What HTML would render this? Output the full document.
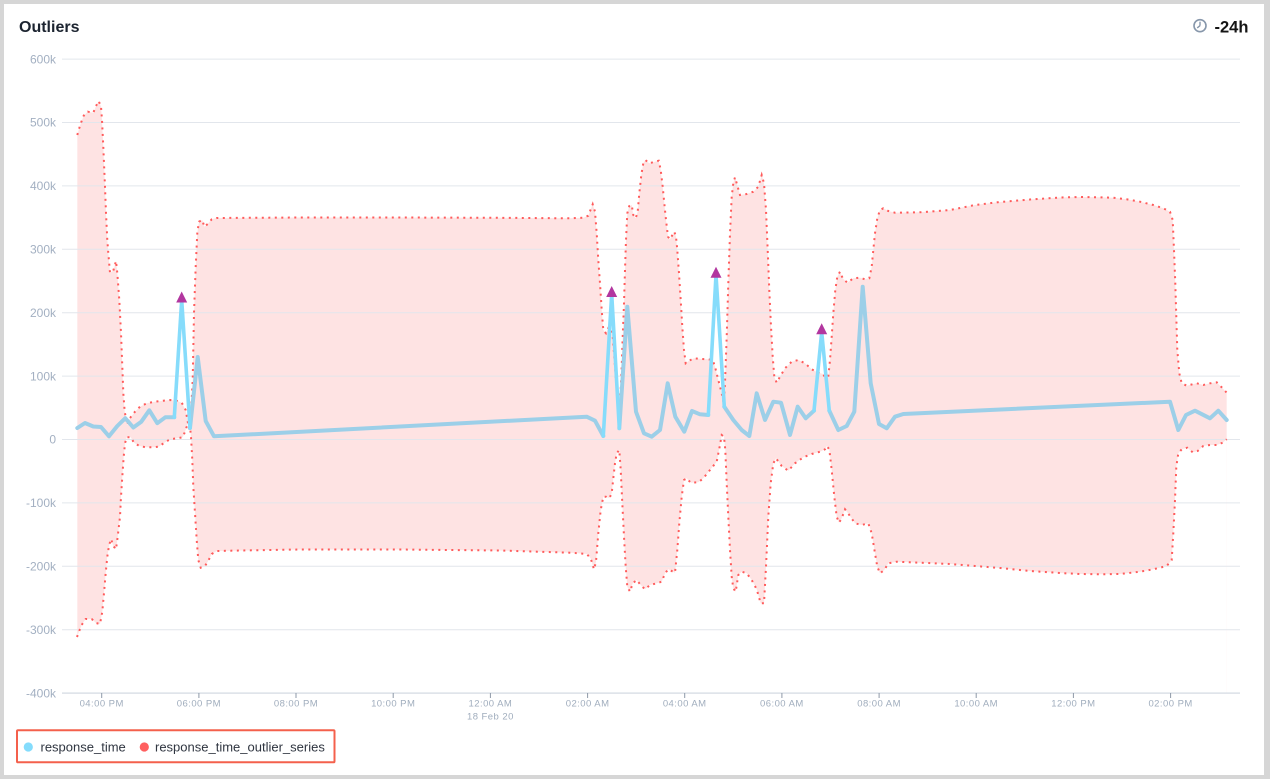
<!DOCTYPE html>
<html><head><meta charset="utf-8"><style>
html,body{margin:0;padding:0;background:#d6d6d6;}
body{width:1270px;height:779px;overflow:hidden;position:relative;font-family:"Liberation Sans",sans-serif;}
svg{position:absolute;left:0;top:0;}
</style></head><body>
<svg width="1270" height="779" viewBox="0 0 1270 779" xmlns="http://www.w3.org/2000/svg">
<rect x="0" y="0" width="1270" height="779" fill="#d6d6d6"/>
<rect x="4" y="4" width="1260" height="771" fill="#ffffff"/>

<text x="19" y="32" font-family="Liberation Sans, sans-serif" font-size="16" font-weight="bold" fill="#1c2430">Outliers</text>
<g transform="translate(1200,25.7)">
<circle r="6" fill="none" stroke="#8797ab" stroke-width="1.6"/>
<line x1="0" y1="0" x2="0" y2="-4" stroke="#8797ab" stroke-width="1.4"/>
<line x1="0" y1="0" x2="-2.8" y2="2.2" stroke="#8797ab" stroke-width="1.4"/>
</g>
<text x="1214.5" y="32.5" font-family="Liberation Sans, sans-serif" font-size="16.5" font-weight="bold" fill="#151515">-24h</text>

<!-- pink band -->
<path fill="#fee3e3" d="M77.3,693 L77.3,135 L79,129 L81.3,122 L83.7,115.7 L87.7,111.7 L93.3,112.7 L96,106 L98.7,101 L101,106.7 L102,120 L103.3,146.7 L105,186.7 L106,213 L107.3,240 L108.3,253 L110,272.7 L113.3,270.7 L116,261 L117.3,273 L119.3,300 L121,333 L122.7,376.7 L123.3,393 L124.7,411.7 L127.3,425 L130,418 L135,411.7 L140,406.7 L146.7,403.3 L155,401.7 L163.3,400.7 L170,400 L176.7,400.7 L181.7,402.7 L185.7,410 L188.3,425 L190,431.7 L192.7,380 L194,313 L195.7,266.7 L197.3,233 L199,221.7 L202.3,220 L204.3,226.7 L207.7,224 L211.7,219.3 L216.7,218 L300,217.5 L400,217.5 L500,217.8 L570,218.3 L583.3,217.7 L588.3,215.7 L592.7,204.3 L595,211.7 L596.7,233.3 L598.3,260 L600,283.3 L601.7,310 L603.3,330 L606,333.3 L608.7,327.3 L610.7,328.3 L612.7,336.7 L614.3,356.7 L616,380 L617.7,396.7 L619.3,401.7 L620.7,390 L621.7,366.7 L622.7,336.7 L624,303.3 L625,270 L626,240 L627.3,213.3 L629.3,206 L631.7,205 L633.3,215 L635.7,218.3 L637.7,211.7 L639.3,193.3 L641.3,175 L643.3,163.3 L645.3,160 L649.3,163.3 L655,161.7 L658.7,160.7 L660.7,170 L662.7,186.7 L664.3,203.3 L666,220 L668,236.7 L670,239.3 L674.3,231.7 L676,236.7 L677.3,250 L679,273.3 L680.7,300 L682.3,326.7 L684,350 L685.7,363.3 L689,360.7 L694,358.3 L701.7,359 L708.3,359.3 L712.7,360 L715,366.7 L718.3,380 L721.7,393.3 L723.7,403.3 L725,383.3 L726.7,336.7 L728.3,283.3 L730,233.3 L731.7,196.7 L733.3,183.3 L735,177.3 L736.7,183.3 L740,195 L746.7,194 L753.3,191.7 L758.3,186.7 L761.7,175 L764,183.3 L766,210 L767.7,250 L769.3,290 L771,326.7 L772.7,356.7 L774.3,376.7 L776.7,382.7 L780,376.7 L785,368.3 L791.7,361.7 L798.3,360 L805,363.3 L811.7,369.3 L818.3,372.7 L823.3,374 L826.7,381.7 L828.3,376.7 L830,360 L831.7,336.7 L833.3,313.3 L835.3,290 L837.3,276.7 L840,271.7 L842.7,278.3 L847.3,282.7 L853.3,278.3 L860,277.7 L865,279.3 L869.3,278.3 L871.7,266.7 L873.3,250 L875,233.3 L877.3,218.3 L880,210 L883.3,208.3 L888.3,211 L895,212.7 L920,212.3 L950,210 L975,205 L1000,202 L1030,199.5 L1060,197.5 L1080,197 L1100,197.3 L1113.3,197.7 L1126.7,199.3 L1140,201.7 L1153.3,205 L1163.3,208.3 L1170,211.7 L1172.7,220 L1174,250 L1175.3,283.3 L1176.3,316.7 L1177.3,350 L1179.3,373.3 L1181.7,383.3 L1186.7,385.7 L1196.7,383.3 L1203.3,385 L1210,383.3 L1216.7,382.3 L1221.7,387.3 L1226.7,392.7 L1226.7,693 Z"/>
<path fill="#ffffff" d="M77,693 L77,637 L79.3,630.7 L82.3,624 L85.7,619 L91.7,619 L96,623 L100,624 L102.3,611.7 L104,593 L105.7,573 L107.3,556.7 L109,545.7 L111,539 L113.3,546 L116,549.3 L117.7,536.7 L120,516.7 L121,496.7 L122.3,476.7 L123.7,456.7 L125,443.3 L126.7,437.3 L130.7,437.3 L134,442.7 L139.3,446 L146,447.3 L153.3,447.3 L158.7,446.7 L165,442.3 L170,439.3 L176.7,438.3 L182.7,437.3 L185,431.7 L187.3,425 L189.3,420 L191,436.7 L192.3,460 L193.3,486.7 L195,513 L196.7,540 L198.3,560 L200.7,567.7 L205,566 L208.3,560.7 L211.7,554 L216.7,551 L240,550.5 L300,549.5 L400,549.5 L500,550.5 L570,552.7 L578.3,553.3 L586.7,554 L590.7,558.3 L594,569.3 L596,561.7 L598.3,533.3 L600.7,510 L603.3,496.7 L606,496.7 L609.3,498.3 L611.7,493.3 L613.3,478.3 L615,463.3 L616.7,453.3 L619.3,450 L620.7,470 L622.3,503.3 L624,536.7 L625.7,566.7 L627.3,586.7 L630,591.7 L632.7,583.3 L636.7,580 L640.7,585 L645,589.3 L650,585 L656.7,583.3 L661.7,581.7 L665,573.3 L668.3,569.3 L675,572.7 L677.3,550 L679.3,523.3 L681.7,496.7 L684,480 L686.7,478.3 L690.7,482.7 L698.3,482.3 L703.3,478.3 L710,470 L716.7,461.7 L720,445 L721.7,435 L724,436.7 L725.3,450 L726.7,483.3 L728.3,516.7 L730,550 L731.7,576.7 L733.3,588.3 L735.7,591.7 L738.3,575 L741.7,571.7 L746.7,573.3 L751.7,580 L756.7,589.3 L760.7,603.3 L764,603.3 L766,566.7 L768.3,516.7 L770.7,483.3 L773.3,463.3 L776,458.3 L781.7,466 L788.3,470.7 L795,463.3 L803.3,457.3 L811.7,454 L820,451.7 L825,449.3 L826.7,446 L829.3,449.3 L831.7,470 L834.3,496.7 L836.7,516.7 L839,522.7 L841.7,518.3 L845,509.3 L850,516 L855,523.3 L861.7,525 L868.3,523.3 L871.7,533.3 L875,553.3 L877.3,566.7 L880,573.3 L884.3,570 L888.3,563.3 L896.7,561.7 L910,562.3 L920,562.7 L950,564 L975,566 L1000,568 L1030,571 L1060,573 L1080,574 L1100,574.3 L1120,574 L1140,571.7 L1153.3,569.3 L1166.7,566 L1171.7,560 L1173.3,533.3 L1175,500 L1176.3,466.7 L1178.3,453.3 L1181.7,449.3 L1187.3,447.7 L1192.7,452.3 L1197.7,451 L1203.3,446 L1210,445 L1216.7,445 L1222.7,442.7 L1226.7,439.3 L1226.7,693 Z"/>

<!-- grid -->
<g stroke="#e2e6ec" stroke-width="1">
<line x1="62" y1="59.1" x2="1240" y2="59.1"/>
<line x1="62" y1="122.5" x2="1240" y2="122.5"/>
<line x1="62" y1="185.9" x2="1240" y2="185.9"/>
<line x1="62" y1="249.3" x2="1240" y2="249.3"/>
<line x1="62" y1="312.7" x2="1240" y2="312.7"/>
<line x1="62" y1="376.1" x2="1240" y2="376.1"/>
<line x1="62" y1="439.5" x2="1240" y2="439.5"/>
<line x1="62" y1="502.9" x2="1240" y2="502.9"/>
<line x1="62" y1="566.3" x2="1240" y2="566.3"/>
<line x1="62" y1="629.7" x2="1240" y2="629.7"/>
</g>
<line x1="62" y1="693.1" x2="1240" y2="693.1" stroke="#dbe0e7" stroke-width="1.5"/>
<g stroke="#8e99a8" stroke-width="1">
<line x1="101.7" y1="693" x2="101.7" y2="698"/>
<line x1="198.9" y1="693" x2="198.9" y2="698"/>
<line x1="296" y1="693" x2="296" y2="698"/>
<line x1="393.2" y1="693" x2="393.2" y2="698"/>
<line x1="490.4" y1="693" x2="490.4" y2="698"/>
<line x1="587.6" y1="693" x2="587.6" y2="698"/>
<line x1="684.7" y1="693" x2="684.7" y2="698"/>
<line x1="781.9" y1="693" x2="781.9" y2="698"/>
<line x1="879.1" y1="693" x2="879.1" y2="698"/>
<line x1="976.2" y1="693" x2="976.2" y2="698"/>
<line x1="1073.4" y1="693" x2="1073.4" y2="698"/>
<line x1="1170.6" y1="693" x2="1170.6" y2="698"/>
</g>

<!-- y labels -->
<g font-family="Liberation Sans, sans-serif" font-size="12" fill="#a3b0c2" text-anchor="end">
<text x="56" y="63.3">600k</text>
<text x="56" y="126.7">500k</text>
<text x="56" y="190.1">400k</text>
<text x="56" y="253.5">300k</text>
<text x="56" y="316.9">200k</text>
<text x="56" y="380.3">100k</text>
<text x="56" y="443.7">0</text>
<text x="56" y="507.1">-100k</text>
<text x="56" y="570.5">-200k</text>
<text x="56" y="633.9">-300k</text>
<text x="56" y="697.3">-400k</text>
</g>
<!-- x labels -->
<g font-family="Liberation Sans, sans-serif" font-size="9.5" letter-spacing="0.45" fill="#a0adbd" text-anchor="middle">
<text x="101.7" y="706.5">04:00 PM</text>
<text x="198.9" y="706.5">06:00 PM</text>
<text x="296" y="706.5">08:00 PM</text>
<text x="393.2" y="706.5">10:00 PM</text>
<text x="490.4" y="706.5">12:00 AM</text>
<text x="490.4" y="719.5">18 Feb 20</text>
<text x="587.6" y="706.5">02:00 AM</text>
<text x="684.7" y="706.5">04:00 AM</text>
<text x="781.9" y="706.5">06:00 AM</text>
<text x="879.1" y="706.5">08:00 AM</text>
<text x="976.2" y="706.5">10:00 AM</text>
<text x="1073.4" y="706.5">12:00 PM</text>
<text x="1170.6" y="706.5">02:00 PM</text>
</g>

<!-- dotted bounds -->
<g fill="none" stroke="#ff5b5b" stroke-width="2" stroke-dasharray="2 4.5">
<polyline points="77.3,135 79,129 81.3,122 83.7,115.7 87.7,111.7 93.3,112.7 96,106 98.7,101 101,106.7 102,120 103.3,146.7 105,186.7 106,213 107.3,240 108.3,253 110,272.7 113.3,270.7 116,261 117.3,273 119.3,300 121,333 122.7,376.7 123.3,393 124.7,411.7 127.3,425 130,418 135,411.7 140,406.7 146.7,403.3 155,401.7 163.3,400.7 170,400 176.7,400.7 181.7,402.7 185.7,410 188.3,425 190,431.7 192.7,380 194,313 195.7,266.7 197.3,233 199,221.7 202.3,220 204.3,226.7 207.7,224 211.7,219.3 216.7,218 300,217.5 400,217.5 500,217.8 570,218.3 583.3,217.7 588.3,215.7 592.7,204.3 595,211.7 596.7,233.3 598.3,260 600,283.3 601.7,310 603.3,330 606,333.3 608.7,327.3 610.7,328.3 612.7,336.7 614.3,356.7 616,380 617.7,396.7 619.3,401.7 620.7,390 621.7,366.7 622.7,336.7 624,303.3 625,270 626,240 627.3,213.3 629.3,206 631.7,205 633.3,215 635.7,218.3 637.7,211.7 639.3,193.3 641.3,175 643.3,163.3 645.3,160 649.3,163.3 655,161.7 658.7,160.7 660.7,170 662.7,186.7 664.3,203.3 666,220 668,236.7 670,239.3 674.3,231.7 676,236.7 677.3,250 679,273.3 680.7,300 682.3,326.7 684,350 685.7,363.3 689,360.7 694,358.3 701.7,359 708.3,359.3 712.7,360 715,366.7 718.3,380 721.7,393.3 723.7,403.3 725,383.3 726.7,336.7 728.3,283.3 730,233.3 731.7,196.7 733.3,183.3 735,177.3 736.7,183.3 740,195 746.7,194 753.3,191.7 758.3,186.7 761.7,175 764,183.3 766,210 767.7,250 769.3,290 771,326.7 772.7,356.7 774.3,376.7 776.7,382.7 780,376.7 785,368.3 791.7,361.7 798.3,360 805,363.3 811.7,369.3 818.3,372.7 823.3,374 826.7,381.7 828.3,376.7 830,360 831.7,336.7 833.3,313.3 835.3,290 837.3,276.7 840,271.7 842.7,278.3 847.3,282.7 853.3,278.3 860,277.7 865,279.3 869.3,278.3 871.7,266.7 873.3,250 875,233.3 877.3,218.3 880,210 883.3,208.3 888.3,211 895,212.7 920,212.3 950,210 975,205 1000,202 1030,199.5 1060,197.5 1080,197 1100,197.3 1113.3,197.7 1126.7,199.3 1140,201.7 1153.3,205 1163.3,208.3 1170,211.7 1172.7,220 1174,250 1175.3,283.3 1176.3,316.7 1177.3,350 1179.3,373.3 1181.7,383.3 1186.7,385.7 1196.7,383.3 1203.3,385 1210,383.3 1216.7,382.3 1221.7,387.3 1226.7,392.7"/>
<polyline points="77,637 79.3,630.7 82.3,624 85.7,619 91.7,619 96,623 100,624 102.3,611.7 104,593 105.7,573 107.3,556.7 109,545.7 111,539 113.3,546 116,549.3 117.7,536.7 120,516.7 121,496.7 122.3,476.7 123.7,456.7 125,443.3 126.7,437.3 130.7,437.3 134,442.7 139.3,446 146,447.3 153.3,447.3 158.7,446.7 165,442.3 170,439.3 176.7,438.3 182.7,437.3 185,431.7 187.3,425 189.3,420 191,436.7 192.3,460 193.3,486.7 195,513 196.7,540 198.3,560 200.7,567.7 205,566 208.3,560.7 211.7,554 216.7,551 240,550.5 300,549.5 400,549.5 500,550.5 570,552.7 578.3,553.3 586.7,554 590.7,558.3 594,569.3 596,561.7 598.3,533.3 600.7,510 603.3,496.7 606,496.7 609.3,498.3 611.7,493.3 613.3,478.3 615,463.3 616.7,453.3 619.3,450 620.7,470 622.3,503.3 624,536.7 625.7,566.7 627.3,586.7 630,591.7 632.7,583.3 636.7,580 640.7,585 645,589.3 650,585 656.7,583.3 661.7,581.7 665,573.3 668.3,569.3 675,572.7 677.3,550 679.3,523.3 681.7,496.7 684,480 686.7,478.3 690.7,482.7 698.3,482.3 703.3,478.3 710,470 716.7,461.7 720,445 721.7,435 724,436.7 725.3,450 726.7,483.3 728.3,516.7 730,550 731.7,576.7 733.3,588.3 735.7,591.7 738.3,575 741.7,571.7 746.7,573.3 751.7,580 756.7,589.3 760.7,603.3 764,603.3 766,566.7 768.3,516.7 770.7,483.3 773.3,463.3 776,458.3 781.7,466 788.3,470.7 795,463.3 803.3,457.3 811.7,454 820,451.7 825,449.3 826.7,446 829.3,449.3 831.7,470 834.3,496.7 836.7,516.7 839,522.7 841.7,518.3 845,509.3 850,516 855,523.3 861.7,525 868.3,523.3 871.7,533.3 875,553.3 877.3,566.7 880,573.3 884.3,570 888.3,563.3 896.7,561.7 910,562.3 920,562.7 950,564 975,566 1000,568 1030,571 1060,573 1080,574 1100,574.3 1120,574 1140,571.7 1153.3,569.3 1166.7,566 1171.7,560 1173.3,533.3 1175,500 1176.3,466.7 1178.3,453.3 1181.7,449.3 1187.3,447.7 1192.7,452.3 1197.7,451 1203.3,446 1210,445 1216.7,445 1222.7,442.7 1226.7,439.3"/>
</g>

<!-- response_time line -->
<g fill="none" stroke="#9ccfe8" stroke-width="4" stroke-linejoin="round" stroke-linecap="round">
<polyline points="77.3,428 85,423 93.3,426.5 101,427 109,436.3 117.3,426 125.3,418.2 133.3,427.5 141.3,421.7 149.3,410.3 157.3,423.2 165.3,417.3 174.3,417.3"/>
<polyline points="190,428 197.7,357 205.7,421 214,436.3 586.7,416.7 595,420.7 603.3,436"/>
<polyline points="619.3,428.3 627.3,306.7 636,411.7 644,433.3 651.7,436.7 660,430 667.7,383.3 675.3,416.7 684.3,431.7 692,411 700,414.3 708.3,415"/>
<polyline points="724.3,406.7 733.3,420 741.7,430 749.3,436 756.7,393.3 765,420 773.3,401.7 781,402.7 790,435 797.7,406.7 805.7,418.3 814,410.7"/>
<polyline points="829.3,410.7 838.3,430 846.7,426 854.3,411.7 862.7,286.7 870.7,383.3 879,424 886.7,428.3 895,416.7 903.3,414 1170,401.7 1178.3,430 1186,415 1195,410.7 1210,418.3 1218.3,410.7 1226.7,420"/>
</g>
<g fill="none" stroke="#86dcfb" stroke-width="3.6" stroke-linejoin="round" stroke-linecap="round">
<polyline points="174.3,417.3 181.7,300 190,428"/>
<polyline points="603.3,436 611.7,294 619.3,428.3"/>
<polyline points="708.3,415 716,275 724.3,406.7"/>
<polyline points="814,410.7 821.7,332 829.3,410.7"/>
</g>
<!-- outlier markers -->
<g fill="#b2369f">
<polygon points="181.7,291.5 187.2,302.5 176.2,302.5"/>
<polygon points="611.7,286 617.2,297 606.2,297"/>
<polygon points="716,266.7 721.5,277.7 710.5,277.7"/>
<polygon points="821.7,323.3 827.2,334.3 816.2,334.3"/>
</g>

<!-- legend -->
<rect x="17" y="730.3" width="317.5" height="32" fill="none" stroke="#f4604c" stroke-width="2" rx="1"/>
<circle cx="28.3" cy="747" r="4.6" fill="#84dcfc"/>
<text x="40.5" y="751.5" font-family="Liberation Sans, sans-serif" font-size="13" fill="#2f3540">response_time</text>
<circle cx="144.3" cy="747" r="4.6" fill="#ff5f5f"/>
<text x="155" y="751.5" font-family="Liberation Sans, sans-serif" font-size="13" fill="#2f3540">response_time_outlier_series</text>
</svg>
</body></html>
